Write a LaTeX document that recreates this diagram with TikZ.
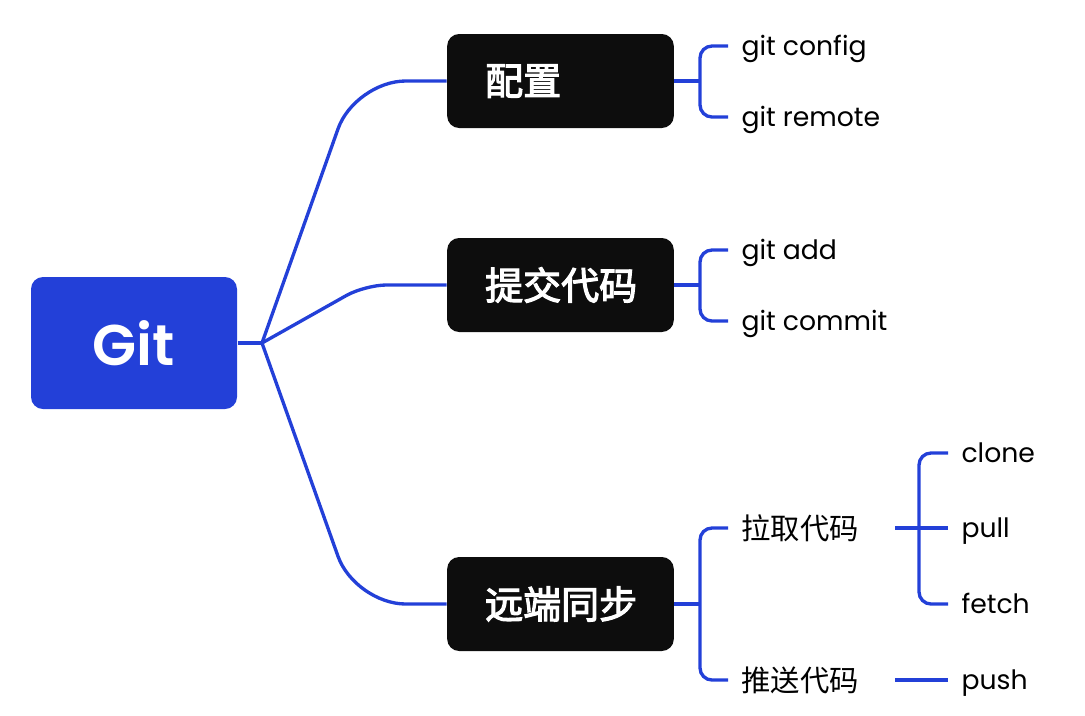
\documentclass[tikz,border=0pt]{standalone}
\usepackage{fontspec}
\setmainfont{Poppins}
\newfontfamily\gitfont[UprightFont={* SemiBold}]{Poppins}
\newfontfamily\cjk{Noto Sans CJK SC}
\newfontfamily\cjkmed[FakeBold=3]{Noto Sans CJK SC}
\definecolor{gitblue}{RGB}{35,64,216}
\definecolor{boxblack}{RGB}{13,13,13}
\tikzset{every picture/.style={line width=0.75pt}}
\tikzset{
  link/.style={draw=gitblue, line width=2.5pt},
  rootbox/.style={fill=gitblue, rounded corners=9pt, minimum width=154.5pt, minimum height=99pt, text=white, font=\gitfont\fontsize{43}{50}\selectfont},
  topicbox/.style={fill=boxblack, rounded corners=9pt, inner xsep=28.5pt, text width=113pt, align=left, minimum height=70.5pt, text=white, font=\cjkmed\fontsize{28.5}{33}\selectfont},
  leaf/.style={anchor=west, inner sep=0.75pt, text height=17pt, text depth=3pt, font=\fontsize{20}{24}\selectfont},
  cnleaf/.style={anchor=west, inner sep=0.75pt, font=\cjk\fontsize{22}{26}\selectfont}
}

\begin{document}
\begin{tikzpicture}[x=0.75pt,y=0.75pt,yscale=-1,xscale=1]
\useasboundingbox (0,0) rectangle (1085,715);

% Root
\node [rootbox] (git) at (134,343) {Git};
% Topics
\node [topicbox] (cfg) at (560.5,81) {配置};
\node [topicbox] (cmt) at (560.5,285) {提交代码};
\node [topicbox] (sync) at (560.5,604) {远端同步};

% Leaves
\node [leaf] (gconfig) at (740,46) {git config};
\node [leaf] (gremote) at (740,117) {git remote};
\node [leaf] (gadd) at (740,250) {git add};
\node [leaf] (gcommit) at (740,321) {git commit};
\node [cnleaf] (fetchcn) at (740,528) {拉取代码};
\node [cnleaf] (pushcn) at (740,680) {推送代码};
\node [leaf] (clone) at (960,453) {clone};
\node [leaf] (pull) at (960,528) {pull};
\node [leaf] (fetch) at (960,604) {fetch};
\node [leaf] (push) at (960,680) {push};

% Hubs
\coordinate (hub) at (262,343);
\coordinate (cfgbr) at (700,81);
\coordinate (cmtbr) at (700,285);
\coordinate (syncbr) at (700,604);
\coordinate (fetchout) at (895,528);
\coordinate (fetchbr) at (919,528);
\coordinate (pushout) at (895,680);

% Root to topics
\draw [link] (git.east) -- (hub);
\draw [link, rounded corners=38pt] (hub) -- (355,81) -- (cfg.west);
\draw [link, rounded corners=16pt] (hub) -- (365,285) -- (cmt.west);
\draw [link, rounded corners=38pt] (hub) -- (355,604) -- (sync.west);

% Topics to leaves
\draw [link] (cfg.east) -- (cfgbr);
\draw [link, rounded corners=9pt] ([xshift=-9pt]gconfig.west) -| (cfgbr) |- ([xshift=-9pt]gremote.west);
\draw [link] (cmt.east) -- (cmtbr);
\draw [link, rounded corners=9pt] ([xshift=-9pt]gadd.west) -| (cmtbr) |- ([xshift=-9pt]gcommit.west);
\draw [link] (sync.east) -- (syncbr);
\draw [link, rounded corners=9pt] ([xshift=-9pt]fetchcn.west) -| (syncbr) |- ([xshift=-9pt]pushcn.west);

% Sub leaves
\draw [link] (fetchout) -- ([xshift=-9pt]pull.west);
\draw [link, rounded corners=9pt] ([xshift=-9pt]clone.west) -| (fetchbr) |- ([xshift=-9pt]fetch.west);
\draw [link] (pushout) -- ([xshift=-9pt]push.west);

\end{tikzpicture}
\end{document}
